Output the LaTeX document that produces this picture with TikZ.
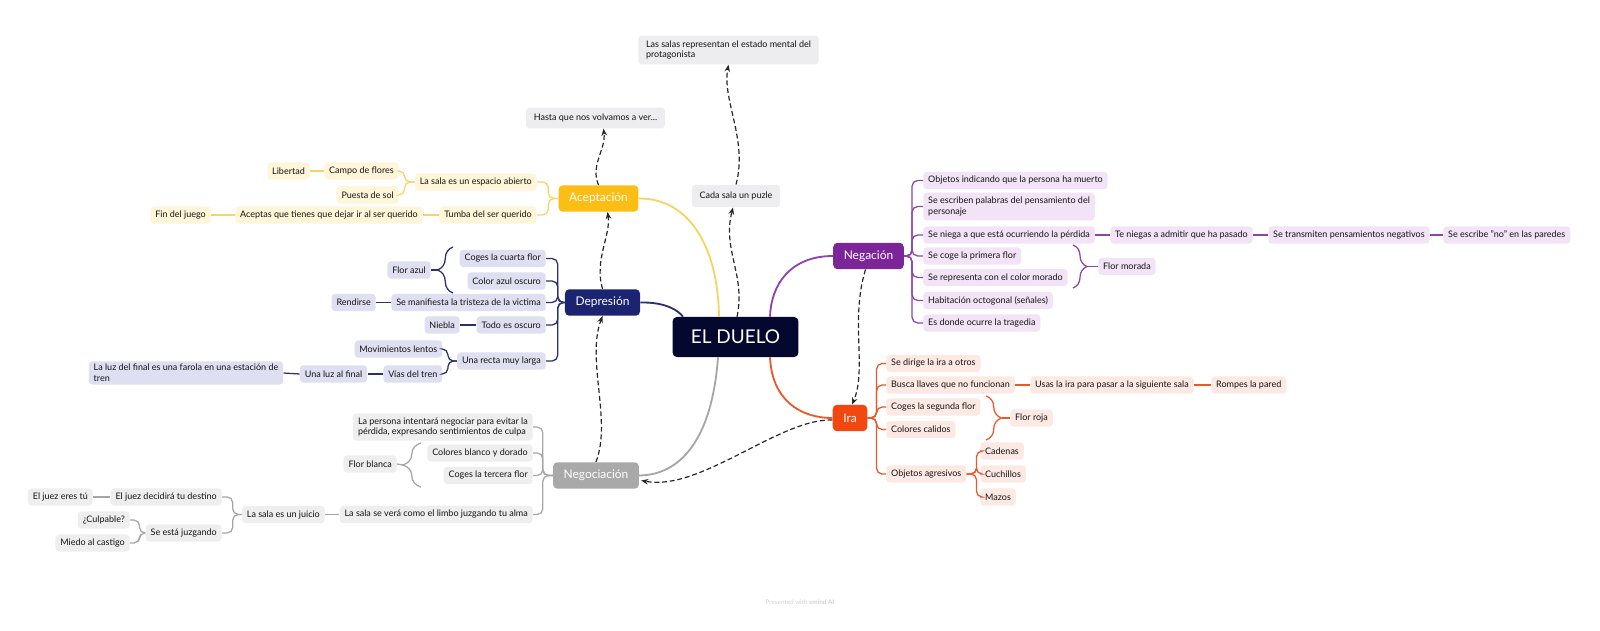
\documentclass[tikz,border=0pt]{standalone}
\usepackage{fontspec}
\setmainfont{Lato}
\usetikzlibrary{positioning,calc,arrows.meta,decorations.pathreplacing}

\definecolor{duelocol}{HTML}{04082E}
\definecolor{acepcol}{HTML}{FCBD14}
\definecolor{aceplin}{HTML}{F7D462}
\definecolor{acepfil}{HTML}{FFF5D9}
\definecolor{deprcol}{HTML}{1C2371}
\definecolor{deprlin}{HTML}{2B3170}
\definecolor{deprfil}{HTML}{DEDFF0}
\definecolor{negocol}{HTML}{A9A9A9}
\definecolor{negolin}{HTML}{A6A6A6}
\definecolor{negofil}{HTML}{EEEEEE}
\definecolor{negacol}{HTML}{7B2598}
\definecolor{negalin}{HTML}{8E44A8}
\definecolor{negafil}{HTML}{F2E4F6}
\definecolor{iracol}{HTML}{F2470F}
\definecolor{iralin}{HTML}{E9582A}
\definecolor{irafil}{HTML}{FDE9E3}
\definecolor{floatfil}{HTML}{EDEDF0}

\newcommand{\leaffont}{\fontsize{6.4}{7.7}\selectfont}
\newcommand{\topicfont}{\fontsize{8.5}{10}\selectfont}

\tikzset{
  leaf/.style={rounded corners=2.5pt,inner xsep=3.5pt,inner ysep=2pt,minimum height=0.43cm,text=black!92,font=\leaffont,align=left},
  topic/.style={rounded corners=3pt,inner xsep=7.5pt,minimum height=0.66cm,text=white,font=\topicfont},
  floater/.style={leaf,fill=floatfil,inner xsep=5.5pt,minimum height=0.56cm},
  aleaf/.style={leaf,fill=acepfil}, aline/.style={draw=aceplin,line width=0.9pt},
  dleaf/.style={leaf,fill=deprfil}, dline/.style={draw=deprlin,line width=0.9pt},
  nleaf/.style={leaf,fill=negofil}, nline/.style={draw=negolin,line width=0.9pt},
  gleaf/.style={leaf,fill=negafil}, gline/.style={draw=negalin,line width=0.9pt},
  rleaf/.style={leaf,fill=irafil}, rline/.style={draw=iralin,line width=0.9pt},
  relarrow/.style={draw=black!85,line width=0.85pt,dash pattern=on 3.5pt off 2pt,-{Stealth[length=5pt,width=4pt]}},
  bracket/.style={decorate,decoration={brace,amplitude=#1}}
}

\begin{document}
\begin{tikzpicture}[x=0.025cm,y=-0.025cm]
\useasboundingbox (0,0) rectangle (1600,631);

% centre and main topics
\node[topic,fill=duelocol,font=\fontsize{13.5}{15}\selectfont,inner xsep=13pt,minimum height=1cm] (duelo) at (735.5,337) {EL DUELO};
\path
(598.5,198.5) node[topic,fill=acepcol] (acep) {Aceptación}
(602.5,302.5) node[topic,fill=deprcol] (depr) {Depresión}
(596,475.5) node[topic,fill=negocol] (nego) {Negociación}
(868.5,256) node[topic,fill=negacol] (nega) {Negación}
(850,418) node[topic,fill=iracol] (ira) {Ira}
;

% floating topics
\path
(736,196) node[floater] (puzle) {Cada sala un puzle}
(595.5,118) node[floater,minimum height=0.52cm] (hasta) {Hasta que nos volvamos a ver...}
(638,50) node[floater,anchor=west,inner ysep=3.5pt] (salas) {Las salas representan el estado mental del\\protagonista}
;

% Aceptacion
\path
(537,182) node[aleaf,anchor=east] (a1) {La sala es un espacio abierto}
(537,215) node[aleaf,anchor=east] (a2) {Tumba del ser querido}
(399,171) node[aleaf,anchor=east] (a11) {Campo de flores}
(399,195) node[aleaf,anchor=east] (a12) {Puesta de sol}
(310,171) node[aleaf,anchor=east] (a111) {Libertad}
(423,215) node[aleaf,anchor=east] (a21) {Aceptas que tienes que dejar ir al ser querido}
(211,215) node[aleaf,anchor=east] (a211) {Fin del juego}
;
\foreach \c in {a1,a2} \draw[aline,rounded corners=4pt] (acep.west) -- ++(-10,0) |- (\c.east);
\foreach \c in {a11,a12} \draw[aline,rounded corners=4pt] (a1.west) -- ++(-10,0) |- (\c.east);
\draw[aline] (a11.west) -- (a111.east);
\draw[aline] (a2.west) -- (a21.east);
\draw[aline] (a21.west) -- (a211.east);

% Depresion
\path
(546,258.5) node[dleaf,anchor=east] (d1) {Coges la cuarta flor}
(546,281) node[dleaf,anchor=east] (d2) {Color azul oscuro}
(546,302.5) node[dleaf,anchor=east] (d3) {Se manifiesta la tristeza de la victima}
(546,325) node[dleaf,anchor=east] (d4) {Todo es oscuro}
(546,361) node[dleaf,anchor=east] (d5) {Una recta muy larga}
(431,270) node[dleaf,anchor=east] (dS) {Flor azul}
(376,302.5) node[dleaf,anchor=east] (d31) {Rendirse}
(460,325) node[dleaf,anchor=east] (d41) {Niebla}
(442.5,349) node[dleaf,anchor=east] (d51) {Movimientos lentos}
(442.5,374) node[dleaf,anchor=east] (d52) {Vías del tren}
(367.5,374) node[dleaf,anchor=east] (d521) {Una luz al final}
(283.5,373) node[dleaf,anchor=east] (d5211) {La luz del final es una farola en una estación de\\tren}
;
\foreach \c in {d1,d2,d3,d4,d5} \draw[dline,rounded corners=4pt] (depr.west) -- ++(-7,0) |- (\c.east);
\foreach \c in {d51,d52} \draw[dline,rounded corners=4pt] (d5.west) -- ++(-9,0) |- (\c.east);
\draw[dline] (d3.west) -- (d31.east);
\draw[dline] (d4.west) -- (d41.east);
\draw[dline] (d52.west) -- (d521.east);
\draw[dline] (d521.west) -- (d5211.east);
\draw[dline,bracket=11pt] (453,293) -- (453,247);
\coordinate (dB) at (438,270);
\draw[dline] (dS.east) -- (dB);

% Negociacion
\path
(533,427) node[nleaf,anchor=east,inner ysep=3pt] (n1) {La persona intentará negociar para evitar la\\pérdida, expresando sentimientos de culpa}
(533,453) node[nleaf,anchor=east] (n2) {Colores blanco y dorado}
(533,475.5) node[nleaf,anchor=east] (n3) {Coges la tercera flor}
(533,514.5) node[nleaf,anchor=east] (n4) {La sala se verá como el limbo juzgando tu alma}
(397,464) node[nleaf,anchor=east] (nS) {Flor blanca}
(325,514.5) node[nleaf,anchor=east] (n41) {La sala es un juicio}
(222,497) node[nleaf,anchor=east] (n411) {El juez decidirá tu destino}
(222,533) node[nleaf,anchor=east] (n412) {Se está juzgando}
(93,497) node[nleaf,anchor=east] (n4111) {El juez eres tú}
(130,520) node[nleaf,anchor=east] (n4121) {¿Culpable?}
(130,543) node[nleaf,anchor=east] (n4122) {Miedo al castigo}
;
\foreach \c in {n1,n2,n3,n4} \draw[nline,rounded corners=4pt] (nego.west) -- ++(-10,0) |- (\c.east);
\draw[nline] (n4.west) -- (n41.east);
\foreach \c in {n411,n412} \draw[nline,rounded corners=4pt] (n41.west) -- ++(-9,0) |- (\c.east);
\draw[nline] (n411.west) -- (n4111.east);
\foreach \c in {n4121,n4122} \draw[nline,rounded corners=4pt] (n412.west) -- ++(-6,0) |- (\c.east);
\draw[nline,bracket=13pt] (421,487) -- (421,443);
\coordinate (nB) at (403,465);
\draw[nline] (nS.east) -- (nB);

% Negacion
\path
(923,180.5) node[gleaf,anchor=west] (g1) {Objetos indicando que la persona ha muerto}
(923,206.5) node[gleaf,anchor=west,inner ysep=3pt] (g2) {Se escriben palabras del pensamiento del\\personaje}
(923,235) node[gleaf,anchor=west] (g3) {Se niega a que está ocurriendo la pérdida}
(923,256) node[gleaf,anchor=west] (g4) {Se coge la primera flor}
(923,277.5) node[gleaf,anchor=west] (g5) {Se representa con el color morado}
(923,300.5) node[gleaf,anchor=west] (g6) {Habitación octogonal (señales)}
(923,323) node[gleaf,anchor=west] (g7) {Es donde ocurre la tragedia}
(1098,266.5) node[gleaf,anchor=west] (gS) {Flor morada}
(1110,235) node[gleaf,anchor=west] (g31) {Te niegas a admitir que ha pasado}
(1268,235) node[gleaf,anchor=west] (g311) {Se transmiten pensamientos negativos}
(1443,235) node[gleaf,anchor=west] (g3111) {Se escribe "no" en las paredes}
;
\foreach \c in {g1,g2,g3,g4,g5,g6,g7} \draw[gline,rounded corners=4pt] (nega.east) -- ++(8,0) |- (\c.west);
\draw[gline] (g3.east) -- (g31.west);
\draw[gline] (g31.east) -- (g311.west);
\draw[gline] (g311.east) -- (g3111.west);
\draw[gline,bracket=10pt] (1073,245) -- (1073,288);
\coordinate (gB) at (1087,266.5);
\draw[gline] (gB) -- (gS.west);

% Ira
\path
(886,363.5) node[rleaf,anchor=west] (i1) {Se dirige la ira a otros}
(886,385) node[rleaf,anchor=west] (i2) {Busca llaves que no funcionan}
(886,407) node[rleaf,anchor=west] (i3) {Coges la segunda flor}
(886,429.5) node[rleaf,anchor=west] (i4) {Colores calidos}
(886,474) node[rleaf,anchor=west] (i5) {Objetos agresivos}
(1010,418) node[rleaf,anchor=west] (iS) {Flor roja}
(1030,385) node[rleaf,anchor=west] (i21) {Usas la ira para pasar a la siguiente sala}
(1211,385) node[rleaf,anchor=west] (i211) {Rompes la pared}
(980,451) node[rleaf,anchor=west] (i51) {Cadenas}
(980,474) node[rleaf,anchor=west] (i52) {Cuchillos}
(980,497) node[rleaf,anchor=west] (i53) {Mazos}
;
\foreach \c in {i1,i2,i3,i4,i5} \draw[rline,rounded corners=4pt] (ira.east) -- ++(9,0) |- (\c.west);
\draw[rline] (i2.east) -- (i21.west);
\draw[rline] (i21.east) -- (i211.west);
\foreach \c in {i51,i52,i53} \draw[rline,rounded corners=4pt] (i5.east) -- ++(10,0) |- (\c.west);
\draw[rline,bracket=11pt] (986,396) -- (986,440);
\coordinate (iB) at (1002,418);
\draw[rline] (iB) -- (iS.west);

% branches out of the centre
\draw[draw=aceplin,line width=1.3pt] (acep.east) .. controls (688,198) and (718,245) .. ($(duelo.north)+(-16.5,0)$);
\draw[draw=deprlin,line width=1.3pt] (depr.east) .. controls (665,302) and (678,310) .. ($(duelo.north)+(-52.5,0)$);
\draw[draw=negalin,line width=1.3pt] (nega.west) .. controls (790,256) and (771,285) .. ($(duelo.north)+(34.5,0)$);
\draw[draw=iralin,line width=1.3pt] ($(duelo.south)+(34.5,0)$) .. controls (772,400) and (800,418) .. (ira.west);
\draw[draw=negolin,line width=1.3pt] ($(duelo.south)+(-17.5,0)$) .. controls (712,440) and (680,475) .. (nego.east);

% relations
\draw[relarrow] ($(duelo.north)+(1.5,0)$) .. controls (746,275) and (722,250) .. ($(puzle.south)+(-3,0)$);
\draw[relarrow] (puzle.north) .. controls (748,140) and (722,100) .. (salas.south);
\draw[relarrow] (acep.north) .. controls (590,165) and (606,150) .. ($(hasta.south)+(8,0)$);
\draw[relarrow] (depr.north) .. controls (594,260) and (611,235) .. ($(acep.south)+(9,0)$);
\draw[relarrow] (nego.north) .. controls (612,420) and (586,360) .. (depr.south);
\draw[relarrow] ($(ira.west)+(0,2)$) .. controls (780,418) and (700,492) .. ($(nego.east)+(2,5)$);
\draw[relarrow] ($(nega.south)+(-3,0)$) .. controls (850,320) and (867,370) .. ($(ira.north)+(2,0)$);

\node[font=\fontsize{4.5}{5}\selectfont,text=black!18] (credit) at (800,602) {Presented with \textbf{xmind AI}};
\end{tikzpicture}
\end{document}
